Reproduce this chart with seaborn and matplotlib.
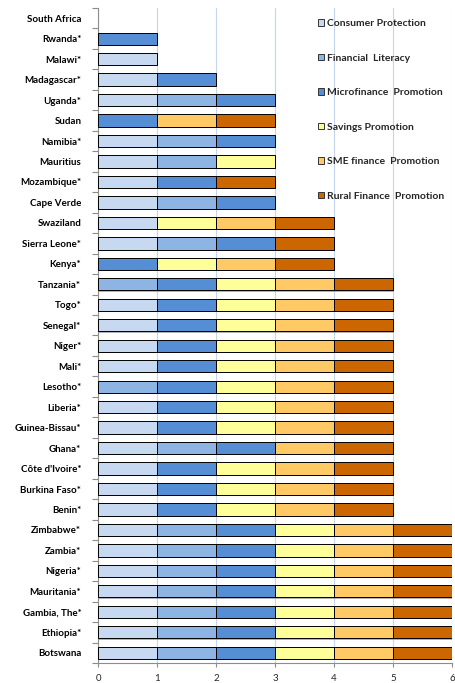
import matplotlib
matplotlib.use("Agg")
import matplotlib.pyplot as plt
import matplotlib.patheffects as pe
from matplotlib.patches import Patch
import seaborn as sns

countries = [
    "South Africa", "Rwanda*", "Malawi*", "Madagascar*", "Uganda*", "Sudan",
    "Namibia*", "Mauritius", "Mozambique*", "Cape Verde", "Swaziland",
    "Sierra Leone*", "Kenya*", "Tanzania*", "Togo*", "Senegal*", "Niger*",
    "Mali*", "Lesotho*", "Liberia*", "Guinea-Bissau*", "Ghana*",
    "Côte d'Ivoire*", "Burkina Faso*", "Benin*", "Zimbabwe*", "Zambia*",
    "Nigeria*", "Mauritania*", "Gambia, The*", "Ethiopia*", "Botswana",
]

# 1 = country has the policy, 0 = it does not (one entry per country above)
consumer_protection = [0, 0, 1, 1, 1, 0, 1, 1, 1, 1, 1, 1, 0, 0, 1, 1, 1, 1, 0, 1, 1, 1, 1, 1, 1, 1, 1, 1, 1, 1, 1, 1]
financial_literacy  = [0, 0, 0, 0, 1, 0, 1, 1, 0, 1, 0, 1, 0, 1, 0, 0, 0, 0, 1, 0, 0, 1, 0, 0, 0, 1, 1, 1, 1, 1, 1, 1]
microfinance        = [0, 1, 0, 1, 1, 1, 1, 0, 1, 1, 0, 1, 1, 1, 1, 1, 1, 1, 1, 1, 1, 1, 1, 1, 1, 1, 1, 1, 1, 1, 1, 1]
savings             = [0, 0, 0, 0, 0, 0, 0, 1, 0, 0, 1, 0, 1, 1, 1, 1, 1, 1, 1, 1, 1, 0, 1, 1, 1, 1, 1, 1, 1, 1, 1, 1]
sme_finance         = [0, 0, 0, 0, 0, 1, 0, 0, 0, 0, 1, 0, 1, 1, 1, 1, 1, 1, 1, 1, 1, 1, 1, 1, 1, 1, 1, 1, 1, 1, 1, 1]
rural_finance       = [0, 0, 0, 0, 0, 1, 0, 0, 1, 0, 1, 1, 1, 1, 1, 1, 1, 1, 1, 1, 1, 1, 1, 1, 1, 1, 1, 1, 1, 1, 1, 1]

series_names = [
    "Consumer Protection", "Financial  Literacy", "Microfinance  Promotion",
    "Savings Promotion", "SME finance  Promotion", "Rural Finance  Promotion",
]
series_values = [consumer_protection, financial_literacy, microfinance,
                 savings, sme_finance, rural_finance]
series_colors = ["#C6D9F1", "#8DB4E2", "#558ED5", "#FFFF99", "#FFC966", "#CC6600"]
x_ticks = [0, 1, 2, 3, 4, 5, 6]

sns.set_theme(style="white")
plt.rcParams["font.family"] = ["Lato", "DejaVu Sans"]

fig = plt.figure(figsize=(4.55, 6.83), dpi=100)
ax = fig.add_axes([0.2154, 0.0293, 0.778, 0.959])

ypos = list(range(len(countries)))
left = [0.0] * len(countries)
shadow = [pe.SimplePatchShadow(offset=(0.8, -0.8), shadow_rgbFace="#808080", alpha=0.6), pe.Normal()]
for name, vals, col in zip(series_names, series_values, series_colors):
    bars = ax.barh(ypos, vals, left=left, height=0.6, color=col,
                   edgecolor="black", linewidth=0.7, zorder=3)
    for b, v in zip(bars, vals):
        if v == 0:
            b.set_visible(False)
        else:
            b.set_path_effects(shadow)
    left = [l + v for l, v in zip(left, vals)]

ax.set_xlim(0, 6)
ax.set_ylim(len(countries) - 0.5, -0.5)
ax.set_xticks(x_ticks)
ax.set_xticklabels([str(t) for t in x_ticks], fontsize=7)
ax.set_yticks(ypos)
ax.set_yticklabels(countries, fontsize=7, fontweight="bold")
ax.set_yticks([i + 0.5 for i in range(-1, len(countries))], minor=True)

ax.grid(axis="x", color="#C5D5EE", linewidth=0.8, zorder=0)
ax.grid(axis="y", visible=False)
for s in ["top", "right"]:
    ax.spines[s].set_visible(False)
for s in ["left", "bottom"]:
    ax.spines[s].set_color("#8C8C8C")
    ax.spines[s].set_linewidth(0.8)

ax.tick_params(axis="y", which="major", length=0, pad=12, colors="black")
ax.tick_params(axis="y", which="minor", length=4, width=0.8, color="#8C8C8C", direction="out", left=True)
ax.tick_params(axis="x", which="major", length=3, width=0.8, color="#8C8C8C", direction="out", bottom=True, pad=5)

handles = [Patch(facecolor=c, edgecolor="#333333", linewidth=0.7, label=n)
           for n, c in zip(series_names, series_colors)]
ax.legend(handles=handles, loc="upper left", bbox_to_anchor=(0.621, 0.983),
          frameon=False, prop={"weight": "bold", "size": 7.5},
          handlelength=0.6, handleheight=0.6, handletextpad=0.3,
          labelspacing=2.45, borderaxespad=0, borderpad=0)

fig.savefig("out.png", dpi=100)
